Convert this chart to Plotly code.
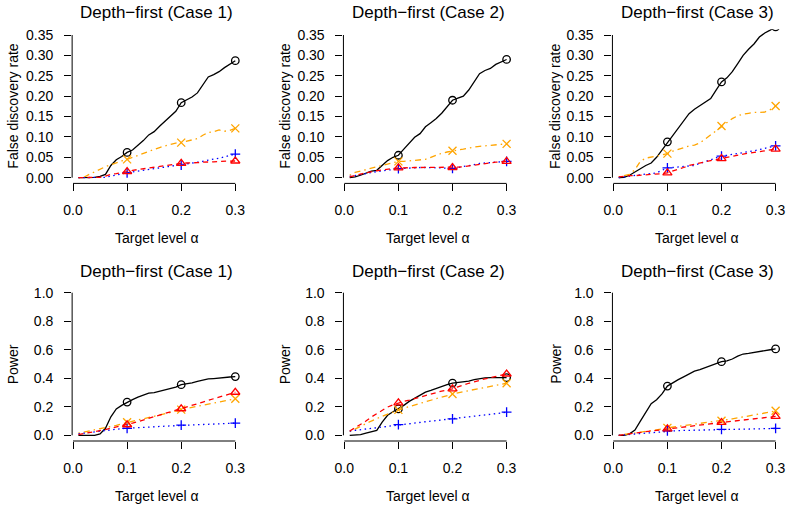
import plotly.graph_objects as go

W, H = 786, 510

alpha = [round(0.01 * i, 2) for i in range(1, 31)]
marker_alpha = [0.1, 0.2, 0.3]

x_ticks = [0.0, 0.1, 0.2, 0.3]
x_tick_text = ["0.0", "0.1", "0.2", "0.3"]
fdr_ticks = [0.0, 0.05, 0.10, 0.15, 0.20, 0.25, 0.30, 0.35]
fdr_tick_text = ["0.00", "0.05", "0.10", "0.15", "0.20", "0.25", "0.30", "0.35"]
pow_ticks = [0.0, 0.2, 0.4, 0.6, 0.8, 1.0]
pow_tick_text = ["0.0", "0.2", "0.4", "0.6", "0.8", "1.0"]

titles = ["Depth\u2212first (Case 1)", "Depth\u2212first (Case 2)", "Depth\u2212first (Case 3)"]
ylabel_fdr = "False discovery rate"
ylabel_pow = "Power"
xlabel = "Target level \u03b1"

# ---- FDR, case 1 ----
fdr1_black = [0.000, 0.000, 0.000, 0.001, 0.003, 0.008, 0.030, 0.044, 0.052, 0.062,
              0.068, 0.079, 0.091, 0.105, 0.113, 0.126, 0.139, 0.150, 0.163, 0.184,
              0.190, 0.198, 0.208, 0.226, 0.247, 0.253, 0.260, 0.270, 0.279, 0.287]
fdr1_orange = [0.000, 0.001, 0.008, 0.015, 0.021, 0.027, 0.032, 0.037, 0.041, 0.045,
               0.050, 0.055, 0.059, 0.064, 0.069, 0.074, 0.078, 0.082, 0.085, 0.086,
               0.089, 0.092, 0.096, 0.104, 0.111, 0.113, 0.117, 0.114, 0.116, 0.121]
fdr1_blue = [0.000, 0.000, 0.000, 0.000, 0.000, 0.001, 0.004, 0.007, 0.010, 0.012,
             0.014, 0.016, 0.018, 0.020, 0.022, 0.024, 0.026, 0.028, 0.030, 0.031,
             0.034, 0.036, 0.038, 0.040, 0.043, 0.045, 0.048, 0.051, 0.054, 0.058]
fdr1_red = [0.000, 0.000, 0.000, 0.000, 0.001, 0.004, 0.008, 0.010, 0.012, 0.015,
            0.018, 0.020, 0.022, 0.024, 0.025, 0.027, 0.029, 0.031, 0.033, 0.035,
            0.036, 0.036, 0.037, 0.038, 0.038, 0.039, 0.040, 0.040, 0.041, 0.041]

# ---- FDR, case 2 ----
fdr2_black = [0.000, 0.002, 0.006, 0.011, 0.016, 0.018, 0.030, 0.042, 0.050, 0.055,
              0.070, 0.085, 0.099, 0.108, 0.125, 0.135, 0.145, 0.158, 0.175, 0.190,
              0.195, 0.200, 0.215, 0.235, 0.255, 0.263, 0.268, 0.278, 0.285, 0.290]
fdr2_orange = [0.006, 0.013, 0.016, 0.020, 0.024, 0.027, 0.030, 0.033, 0.036, 0.040,
               0.040, 0.041, 0.042, 0.043, 0.045, 0.050, 0.055, 0.060, 0.063, 0.066,
               0.068, 0.070, 0.073, 0.075, 0.077, 0.078, 0.079, 0.080, 0.081, 0.083]
fdr2_blue = [0.003, 0.005, 0.008, 0.010, 0.013, 0.015, 0.017, 0.019, 0.020, 0.022,
             0.023, 0.024, 0.024, 0.025, 0.025, 0.025, 0.024, 0.024, 0.023, 0.023,
             0.025, 0.027, 0.029, 0.032, 0.035, 0.036, 0.037, 0.038, 0.039, 0.040]
fdr2_red = [0.002, 0.006, 0.009, 0.012, 0.015, 0.017, 0.019, 0.021, 0.022, 0.024,
            0.024, 0.025, 0.025, 0.025, 0.025, 0.025, 0.025, 0.025, 0.025, 0.025,
            0.026, 0.027, 0.029, 0.031, 0.033, 0.035, 0.037, 0.038, 0.039, 0.040]

# ---- FDR, case 3 ----
fdr3_black = [0.000, 0.001, 0.006, 0.013, 0.022, 0.030, 0.036, 0.050, 0.068, 0.088,
              0.105, 0.122, 0.140, 0.157, 0.168, 0.176, 0.184, 0.194, 0.215, 0.235,
              0.245, 0.260, 0.280, 0.300, 0.315, 0.328, 0.345, 0.355, 0.362, 0.370]
fdr3_orange = [0.002, 0.005, 0.008, 0.020, 0.040, 0.048, 0.050, 0.053, 0.056, 0.059,
               0.065, 0.070, 0.075, 0.078, 0.080, 0.085, 0.095, 0.105, 0.116, 0.127,
               0.135, 0.145, 0.152, 0.156, 0.158, 0.160, 0.160, 0.161, 0.167, 0.176]
fdr3_blue = [0.000, 0.002, 0.004, 0.006, 0.008, 0.009, 0.010, 0.012, 0.018, 0.024,
             0.025, 0.026, 0.027, 0.028, 0.030, 0.035, 0.040, 0.045, 0.049, 0.053,
             0.055, 0.057, 0.059, 0.061, 0.063, 0.066, 0.069, 0.072, 0.075, 0.078]
fdr3_red = [0.002, 0.004, 0.005, 0.005, 0.006, 0.006, 0.007, 0.008, 0.010, 0.012,
            0.016, 0.020, 0.025, 0.030, 0.033, 0.037, 0.040, 0.042, 0.044, 0.047,
            0.050, 0.053, 0.055, 0.058, 0.060, 0.062, 0.064, 0.066, 0.068, 0.070]

# ---- Power, case 1 ----
pow1_black = [0.000, 0.000, 0.000, 0.000, 0.010, 0.049, 0.130, 0.185, 0.210, 0.233,
              0.250, 0.268, 0.284, 0.295, 0.300, 0.310, 0.318, 0.325, 0.338, 0.355,
              0.360, 0.368, 0.378, 0.388, 0.395, 0.398, 0.400, 0.405, 0.409, 0.412]
pow1_orange = [0.015, 0.022, 0.030, 0.038, 0.046, 0.054, 0.062, 0.070, 0.080, 0.092,
               0.100, 0.108, 0.116, 0.124, 0.132, 0.140, 0.150, 0.160, 0.170, 0.180,
               0.188, 0.196, 0.204, 0.212, 0.220, 0.227, 0.234, 0.241, 0.248, 0.256]
pow1_blue = [0.010, 0.015, 0.020, 0.025, 0.030, 0.035, 0.040, 0.044, 0.047, 0.049,
             0.052, 0.054, 0.056, 0.058, 0.060, 0.062, 0.064, 0.066, 0.068, 0.071,
             0.073, 0.075, 0.076, 0.078, 0.080, 0.081, 0.082, 0.083, 0.084, 0.085]
pow1_red = [0.005, 0.011, 0.018, 0.025, 0.032, 0.040, 0.050, 0.058, 0.066, 0.074,
            0.085, 0.096, 0.107, 0.118, 0.130, 0.140, 0.152, 0.163, 0.174, 0.186,
            0.198, 0.210, 0.222, 0.233, 0.245, 0.256, 0.267, 0.278, 0.289, 0.302]

# ---- Power, case 2 ----
pow2_black = [0.000, 0.000, 0.005, 0.015, 0.025, 0.035, 0.092, 0.140, 0.165, 0.185,
              0.210, 0.238, 0.260, 0.280, 0.303, 0.315, 0.330, 0.340, 0.355, 0.366,
              0.370, 0.372, 0.380, 0.390, 0.398, 0.402, 0.404, 0.405, 0.405, 0.405]
pow2_orange = [0.025, 0.045, 0.065, 0.083, 0.100, 0.117, 0.133, 0.148, 0.163, 0.178,
               0.190, 0.202, 0.213, 0.225, 0.238, 0.247, 0.257, 0.267, 0.279, 0.290,
               0.298, 0.306, 0.314, 0.322, 0.330, 0.337, 0.344, 0.351, 0.358, 0.365]
pow2_blue = [0.030, 0.035, 0.040, 0.045, 0.050, 0.055, 0.060, 0.065, 0.070, 0.075,
             0.079, 0.083, 0.087, 0.091, 0.095, 0.099, 0.103, 0.107, 0.111, 0.115,
             0.120, 0.125, 0.130, 0.135, 0.140, 0.144, 0.148, 0.152, 0.156, 0.162]
pow2_red = [0.030, 0.052, 0.078, 0.100, 0.128, 0.153, 0.178, 0.198, 0.214, 0.228,
            0.238, 0.247, 0.258, 0.268, 0.280, 0.290, 0.300, 0.310, 0.318, 0.326,
            0.340, 0.355, 0.365, 0.375, 0.388, 0.396, 0.404, 0.412, 0.420, 0.430]

# ---- Power, case 3 ----
pow3_black = [0.000, 0.000, 0.010, 0.037, 0.100, 0.160, 0.222, 0.250, 0.290, 0.345,
              0.370, 0.390, 0.410, 0.430, 0.450, 0.460, 0.475, 0.485, 0.505, 0.516,
              0.522, 0.535, 0.555, 0.570, 0.575, 0.580, 0.590, 0.595, 0.600, 0.606]
pow3_orange = [0.000, 0.005, 0.010, 0.015, 0.020, 0.026, 0.032, 0.038, 0.044, 0.052,
               0.057, 0.062, 0.067, 0.071, 0.075, 0.080, 0.085, 0.090, 0.095, 0.102,
               0.108, 0.115, 0.122, 0.128, 0.135, 0.142, 0.149, 0.156, 0.163, 0.172]
pow3_blue = [0.000, 0.003, 0.006, 0.009, 0.015, 0.018, 0.021, 0.024, 0.027, 0.031,
             0.032, 0.033, 0.034, 0.035, 0.035, 0.036, 0.037, 0.038, 0.039, 0.042,
             0.043, 0.044, 0.044, 0.045, 0.045, 0.046, 0.046, 0.047, 0.047, 0.048]
pow3_red = [0.000, 0.004, 0.009, 0.014, 0.020, 0.025, 0.030, 0.035, 0.040, 0.045,
            0.049, 0.053, 0.057, 0.061, 0.065, 0.070, 0.075, 0.080, 0.085, 0.090,
            0.094, 0.098, 0.102, 0.106, 0.110, 0.114, 0.118, 0.122, 0.126, 0.132]

panels = [
    (0, 0, dict(black=fdr1_black, orange=fdr1_orange, blue=fdr1_blue, red=fdr1_red)),
    (0, 1, dict(black=fdr2_black, orange=fdr2_orange, blue=fdr2_blue, red=fdr2_red)),
    (0, 2, dict(black=fdr3_black, orange=fdr3_orange, blue=fdr3_blue, red=fdr3_red)),
    (1, 0, dict(black=pow1_black, orange=pow1_orange, blue=pow1_blue, red=pow1_red)),
    (1, 1, dict(black=pow2_black, orange=pow2_orange, blue=pow2_blue, red=pow2_red)),
    (1, 2, dict(black=pow3_black, orange=pow3_orange, blue=pow3_blue, red=pow3_red)),
]

styles = {
    "black": dict(color="#000000", dash="solid", symbol="circle-open", size=7.5),
    "orange": dict(color="#FFA500", dash="1.5px,4px,6px,4px", symbol="x-thin-open", size=8),
    "blue": dict(color="#0000FF", dash="1.5px,3.5px", symbol="cross-thin-open", size=7),
    "red": dict(color="#FF0000", dash="5px,4px", symbol="triangle-up-open", size=8),
}
order = ["black", "orange", "blue", "red"]

# geometry (pixels)
col_x0 = [73.0, 344.3, 613.3]      # pixel where alpha = 0
px_per_unit_x = 541.0
x_range = [-0.0016, 0.3116]
row_top = [29.3, 287.0]
row_bot = [183.4, 441.0]
y_ranges = [[-0.014, 0.364], [-0.04, 1.04]]

FONT = "Liberation Sans, Arial, Helvetica, sans-serif"

fig = go.Figure()
layout = dict(
    template="none",
    width=W, height=H,
    margin=dict(l=0, r=0, t=0, b=0, pad=0, autoexpand=False),
    paper_bgcolor="white", plot_bgcolor="white",
    showlegend=False,
    font=dict(family=FONT, size=14, color="black"),
)
annotations = []
shapes = []

for idx, (r, c, data) in enumerate(panels):
    n = idx + 1
    xa = "x" if n == 1 else f"x{n}"
    ya = "y" if n == 1 else f"y{n}"
    xl = x_range[0] * px_per_unit_x + col_x0[c]
    xr = x_range[1] * px_per_unit_x + col_x0[c]
    dom_x = [xl / W, xr / W]
    dom_y = [1 - row_bot[r] / H, 1 - row_top[r] / H]
    if r == 0:
        yt, ytt = fdr_ticks, fdr_tick_text
    else:
        yt, ytt = pow_ticks, pow_tick_text

    layout["xaxis" if n == 1 else f"xaxis{n}"] = dict(
        domain=dom_x, range=x_range, anchor=ya, automargin=False,
        tickmode="array", tickvals=x_ticks, ticktext=x_tick_text,
        ticks="outside", ticklen=7, tickwidth=1, tickcolor="black",
        ticklabelstandoff=7,
        showgrid=False, zeroline=False, showline=False,
        tickfont=dict(family=FONT, size=14, color="black"),
        fixedrange=True,
    )
    layout["yaxis" if n == 1 else f"yaxis{n}"] = dict(
        domain=dom_y, range=y_ranges[r], anchor=xa, automargin=False,
        tickmode="array", tickvals=yt, ticktext=ytt,
        ticks="outside", ticklen=7, tickwidth=1, tickcolor="black",
        ticklabelstandoff=8,
        showgrid=False, zeroline=False, showline=False,
        tickfont=dict(family=FONT, size=14, color="black"),
        fixedrange=True,
    )
    # R-style axis lines spanning first..last tick
    shapes.append(dict(type="line", xref=xa, yref=f"{ya} domain",
                       x0=x_ticks[0], x1=x_ticks[-1], y0=0, y1=0,
                       line=dict(color="black", width=1)))
    shapes.append(dict(type="line", xref=f"{xa} domain", yref=ya,
                       x0=0, x1=0, y0=yt[0], y1=yt[-1],
                       line=dict(color="black", width=1)))

    for key in order:
        st = styles[key]
        ys = data[key]
        fig.add_trace(go.Scatter(
            x=alpha, y=ys, mode="lines", xaxis=xa, yaxis=ya,
            line=dict(color=st["color"], width=1.3, dash=st["dash"]),
            hoverinfo="skip", cliponaxis=True,
        ))
        mx = marker_alpha
        my = [ys[alpha.index(a)] for a in mx]
        fig.add_trace(go.Scatter(
            x=mx, y=my, mode="markers", xaxis=xa, yaxis=ya,
            marker=dict(symbol=st["symbol"], size=st["size"], color=st["color"],
                        line=dict(color=st["color"], width=1.3)),
            hoverinfo="skip", cliponaxis=True,
        ))

    cx = (xl + xr) / 2
    annotations.append(dict(
        text=titles[c], xref="paper", yref="paper",
        x=cx / W, y=1 - (12.9 + r * 258.4) / H,
        xanchor="center", yanchor="middle", showarrow=False,
        font=dict(family=FONT, size=17, color="black"),
    ))
    annotations.append(dict(
        text=xlabel, xref="paper", yref="paper",
        x=cx / W, y=1 - (row_bot[r] + 55.0) / H,
        xanchor="center", yanchor="middle", showarrow=False,
        font=dict(family=FONT, size=14, color="black"),
    ))
    ylab_x = [13.3, 285.3, 555.7][c]
    annotations.append(dict(
        text=ylabel_fdr if r == 0 else ylabel_pow, xref="paper", yref="paper",
        x=ylab_x / W, y=1 - ((row_top[r] + row_bot[r]) / 2) / H,
        xanchor="center", yanchor="middle", showarrow=False, textangle=-90,
        font=dict(family=FONT, size=14, color="black"),
    ))

layout["annotations"] = annotations
layout["shapes"] = shapes
fig.update_layout(**layout)
fig.write_html("out.html")
